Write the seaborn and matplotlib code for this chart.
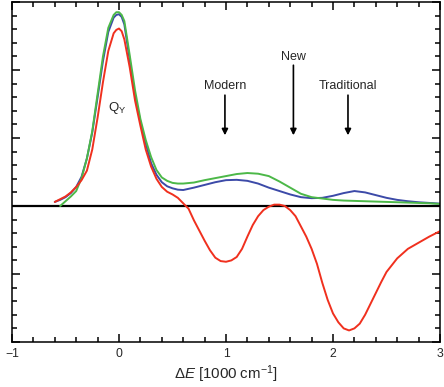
import numpy as np
import pandas as pd
import matplotlib
matplotlib.use("Agg")
import matplotlib.pyplot as plt
import seaborn as sns
from matplotlib.ticker import MultipleLocator

# ---------------- data ----------------
x_green = [-0.55, -0.5, -0.45, -0.4, -0.35, -0.3, -0.25, -0.2, -0.15, -0.1, -0.05, -0.025, 0.0,
           0.025, 0.05, 0.1, 0.15, 0.2, 0.25, 0.3, 0.35, 0.4, 0.45, 0.5, 0.55, 0.6, 0.7, 0.8, 0.9,
           1.0, 1.1, 1.2, 1.3, 1.4, 1.5, 1.6, 1.7, 1.8, 1.9, 2.0, 2.1, 2.2, 2.3, 2.4, 2.5,
           2.6, 2.7, 2.8, 2.9, 3.0]
y_green = [0.0, 0.07, 0.14, 0.22, 0.41, 0.70, 1.10, 1.65, 2.20, 2.62, 2.81, 2.85, 2.85,
           2.81, 2.72, 2.22, 1.70, 1.28, 0.97, 0.72, 0.53, 0.42, 0.37, 0.34, 0.33, 0.33, 0.345, 0.38, 0.41,
           0.44, 0.47, 0.485, 0.475, 0.44, 0.36, 0.27, 0.18, 0.13, 0.11, 0.09, 0.08, 0.075, 0.07, 0.065, 0.06,
           0.055, 0.05, 0.045, 0.04, 0.03]

x_blue = [-0.6, -0.55, -0.5, -0.45, -0.4, -0.35, -0.3, -0.25, -0.2, -0.15, -0.1, -0.05, -0.025, 0.0,
          0.025, 0.05, 0.1, 0.15, 0.2, 0.25, 0.3, 0.35, 0.4, 0.45, 0.5, 0.55, 0.6, 0.7, 0.8, 0.9,
          1.0, 1.1, 1.2, 1.3, 1.4, 1.5, 1.6, 1.7, 1.8, 1.9, 2.0, 2.1, 2.2, 2.3, 2.4, 2.5,
          2.6, 2.7, 2.8, 2.9, 3.0]
y_blue = [0.06, 0.09, 0.13, 0.19, 0.28, 0.43, 0.70, 1.08, 1.60, 2.13, 2.56, 2.77, 2.81, 2.82,
          2.78, 2.67, 2.15, 1.62, 1.24, 0.92, 0.63, 0.46, 0.35, 0.29, 0.26, 0.24, 0.235, 0.27, 0.31, 0.35,
          0.38, 0.385, 0.37, 0.33, 0.27, 0.22, 0.17, 0.13, 0.115, 0.12, 0.15, 0.19, 0.22, 0.20, 0.16, 0.12,
          0.09, 0.07, 0.055, 0.045, 0.035]

x_red = [-0.6, -0.55, -0.5, -0.45, -0.4, -0.35, -0.3, -0.25, -0.2, -0.15, -0.1, -0.05, -0.025, 0.0,
         0.025, 0.05, 0.1, 0.15, 0.2, 0.25, 0.3, 0.35, 0.4, 0.45, 0.5, 0.55, 0.6, 0.65, 0.7, 0.75,
         0.8, 0.85, 0.9, 0.95, 1.0, 1.05, 1.1, 1.15, 1.2, 1.25, 1.3, 1.35, 1.4, 1.45, 1.5,
         1.55, 1.6, 1.65, 1.7, 1.75, 1.8, 1.85, 1.9, 1.95, 2.0, 2.05, 2.1, 2.15, 2.2, 2.25,
         2.3, 2.35, 2.4, 2.45, 2.5, 2.6, 2.7, 2.8, 2.9, 3.0]
y_red = [0.06, 0.10, 0.14, 0.20, 0.28, 0.38, 0.52, 0.83, 1.30, 1.82, 2.28, 2.54, 2.59, 2.61,
         2.57, 2.45, 2.04, 1.55, 1.18, 0.83, 0.58, 0.40, 0.28, 0.21, 0.17, 0.12, 0.04, -0.04, -0.21, -0.36,
         -0.51, -0.65, -0.76, -0.81, -0.82, -0.80, -0.75, -0.63, -0.45, -0.28, -0.15, -0.06, -0.01, 0.02, 0.02,
         0.0, -0.06, -0.15, -0.30, -0.45, -0.63, -0.85, -1.13, -1.38, -1.58, -1.71, -1.80, -1.83, -1.80, -1.73,
         -1.60, -1.44, -1.28, -1.12, -0.97, -0.77, -0.63, -0.54, -0.45, -0.37]

series_names = ["blue", "green", "red"]
series_colors = ["#3c4aa8", "#4cb848", "#f0301e"]

annot_labels = ["Modern", "New", "Traditional"]
annot_x = [0.99, 1.63, 2.14]
annot_text_y = [1.77, 2.19, 1.77]
annot_top_y = [1.63, 2.07, 1.63]
annot_tip_y = [1.04, 1.04, 1.04]

xtick_values = [-1, 0, 1, 2, 3]

# ---------------- build frame ----------------
series_x = {"green": x_green, "blue": x_blue, "red": x_red}
series_y = {"green": y_green, "blue": y_blue, "red": y_red}
frames = []
for name in series_names:
    frames.append(pd.DataFrame({"x": series_x[name], "y": series_y[name], "series": name}))
df = pd.concat(frames, ignore_index=True)

sns.set_style("white")
plt.rcParams["font.family"] = ["Liberation Sans", "DejaVu Sans"]
plt.rcParams["mathtext.fontset"] = "custom"
plt.rcParams["mathtext.rm"] = "Liberation Sans"
plt.rcParams["mathtext.it"] = "Liberation Sans:italic"
plt.rcParams["mathtext.bf"] = "Liberation Sans:bold"

fig = plt.figure(figsize=(4.44, 3.87), dpi=100)
ax = fig.add_axes([12 / 444, 1 - 342 / 387, 428 / 444, 340 / 387])

ax.axhline(0, color="black", lw=1.6, zorder=1)

sns.lineplot(data=df, x="x", y="y", hue="series", hue_order=series_names,
             palette=dict(zip(series_names, series_colors)), sort=False,
             estimator=None, legend=False, lw=1.4, ax=ax, zorder=2)

ax.set_xlim(-1, 3)
ax.set_ylim(-2, 3)
ax.set_xticks(xtick_values)
ax.set_xticklabels([f"{v}" if v >= 0 else f"\u2212{abs(v)}" for v in xtick_values])
ax.xaxis.set_minor_locator(MultipleLocator(0.2))
ax.yaxis.set_major_locator(MultipleLocator(1))
ax.yaxis.set_minor_locator(MultipleLocator(0.2))
ax.tick_params(which="both", direction="in", top=True, right=True, left=True, bottom=True,
               color="black", width=1.1, labelsize=8.8, pad=4)
ax.tick_params(which="major", length=5.5)
ax.tick_params(which="minor", length=3.3)
ax.tick_params(axis="y", which="both", labelleft=False)
for sp in ax.spines.values():
    sp.set_color("black")
    sp.set_linewidth(1.1)

ax.set_xlabel(r"$\Delta\mathit{E}$ [1000 cm$^{-1}$]", fontsize=10.8, labelpad=3)
ax.set_ylabel("")

ax.text(-0.02, 1.44, r"Q$_\mathregular{Y}$", fontsize=9.5, ha="center", va="center")

for lab, xa, ty, top, tip in zip(annot_labels, annot_x, annot_text_y, annot_top_y, annot_tip_y):
    ax.text(xa, ty, lab, fontsize=9, ha="center", va="center")
    ax.annotate("", xy=(xa, tip), xytext=(xa, top),
                arrowprops=dict(arrowstyle="-|>", color="black", lw=1.2,
                                mutation_scale=9, shrinkA=0, shrinkB=0))

fig.savefig("out.png", dpi=100)
